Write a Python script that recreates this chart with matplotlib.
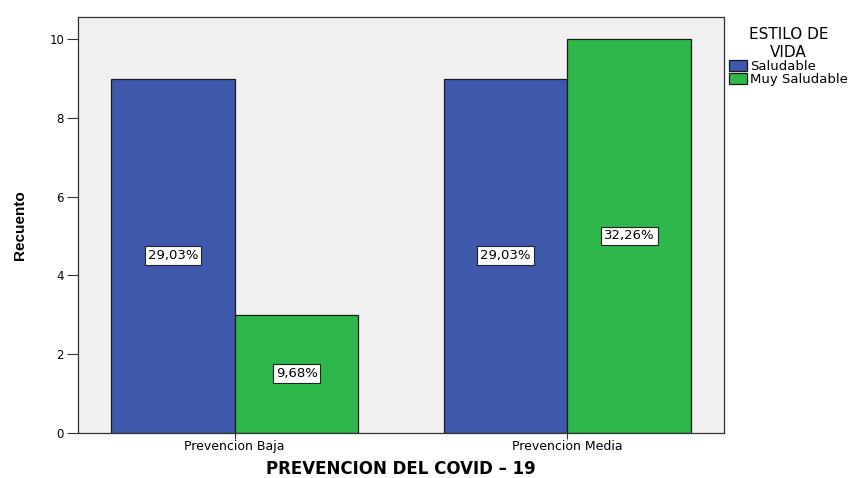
import matplotlib.pyplot as plt
import numpy as np

# Datos
categorias = ['Prevencion Baja', 'Prevencion Media']
saludable = [9, 9]
muy_saludable = [3, 10]
pct_saludable = ['29,03%', '29,03%']
pct_muy_saludable = ['9,68%', '32,26%']

plt.rcParams['font.family'] = ['DejaVu Sans']

fig = plt.figure(figsize=(8.57, 4.78), dpi=100)
ax = fig.add_axes([0.091, 0.095, 0.754, 0.869])
ax.set_facecolor('#f0f0f0')

x = np.arange(len(categorias))
w = 0.372
azul = '#3e58ac'
verde = '#2eb84b'

b1 = ax.bar(x - w / 2, saludable, w, color=azul, edgecolor='#1a1a1a', linewidth=0.9, label='Saludable')
b2 = ax.bar(x + w / 2, muy_saludable, w, color=verde, edgecolor='#1a1a1a', linewidth=0.9, label='Muy Saludable')

# etiquetas de porcentaje en el centro de cada barra
caja = dict(boxstyle='square,pad=0.22', facecolor='white', edgecolor='#222222', linewidth=0.8)
for barras, textos in [(b1, pct_saludable), (b2, pct_muy_saludable)]:
    for b, t in zip(barras, textos):
        ax.text(b.get_x() + b.get_width() / 2, b.get_height() / 2, t,
                ha='center', va='center', fontsize=9.5, bbox=caja)

ax.set_xlim(-0.471, 1.471)
ax.set_ylim(0, 10.56)
ax.set_yticks([0, 2, 4, 6, 8, 10])
ax.set_xticks(x)
ax.set_xticklabels(categorias, fontsize=9)
ax.tick_params(axis='y', labelsize=8.5, length=8, pad=2, direction='out', color='#333333')
ax.tick_params(axis='x', length=4.3, pad=1, direction='out', color='#333333')
for s in ax.spines.values():
    s.set_color('#333333')
    s.set_linewidth(0.9)

ax.set_xlabel('PREVENCION DEL COVID \u2013 19', fontsize=12, fontweight='bold')
ax.xaxis.set_label_coords(0.5, -0.1)
ax.xaxis.label.set_va('baseline')
ax.set_ylabel('Recuento', fontsize=11, fontweight='bold', labelpad=16,
              family=['Liberation Sans Narrow', 'Liberation Sans'])

leg = ax.legend(title='ESTILO DE\nVIDA', loc='upper left', bbox_to_anchor=(0.995, 0.995),
                frameon=False, fontsize=9.5, title_fontsize=11, handlelength=1.4,
                handleheight=0.9, handletextpad=0.2, borderaxespad=0.2, labelspacing=0.0)
leg.get_title().set_multialignment('center')
for h in leg.legend_handles:
    h.set_edgecolor('#1a1a1a')

fig.savefig('out.png', dpi=100)
